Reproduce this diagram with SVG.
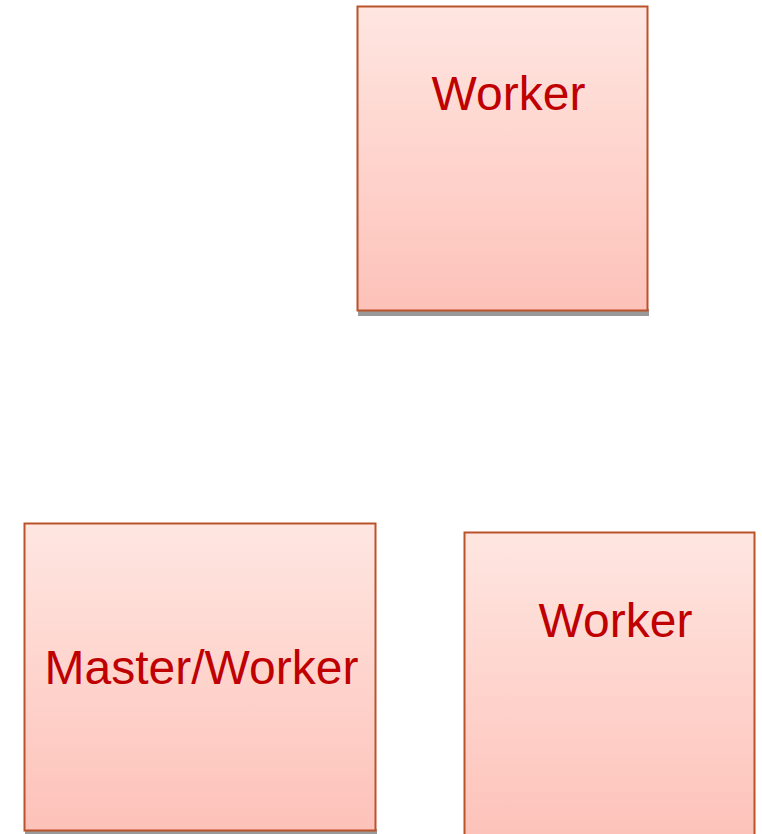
<svg xmlns="http://www.w3.org/2000/svg" width="762" height="834" viewBox="0 0 762 834">
  <defs>
    <linearGradient id="boxFill" x1="0" y1="0" x2="0" y2="1">
      <stop offset="0" stop-color="#ffe6e1"/>
      <stop offset="1" stop-color="#fdc2b9"/>
    </linearGradient>
  </defs>
  <style>
    .shadow { fill: #9a9a9a; }
    .box { fill: url(#boxFill); stroke: #b9532a; stroke-width: 2; }
    .label { font-family: "Liberation Sans", Arial, sans-serif; font-size: 48px; fill: #c00000; text-anchor: middle; }
  </style>
  <rect width="762" height="834" fill="#ffffff"/>

  <g id="worker-top">
    <rect class="shadow" x="358" y="309" width="291" height="7"/>
    <rect class="box" x="357.5" y="6.5" width="290" height="304"/>
    <text class="label" x="508.5" y="110">Worker</text>
  </g>

  <g id="master-worker">
    <rect class="shadow" x="25" y="829" width="352" height="6"/>
    <rect class="box" x="24.5" y="523.5" width="351" height="307"/>
    <text class="label" x="201.5" y="684">Master/Worker</text>
  </g>

  <g id="worker-right">
    <rect class="box" x="464.5" y="532.5" width="290" height="310"/>
    <text class="label" x="615.5" y="637">Worker</text>
  </g>

  <g id="connectors"></g>
</svg>
